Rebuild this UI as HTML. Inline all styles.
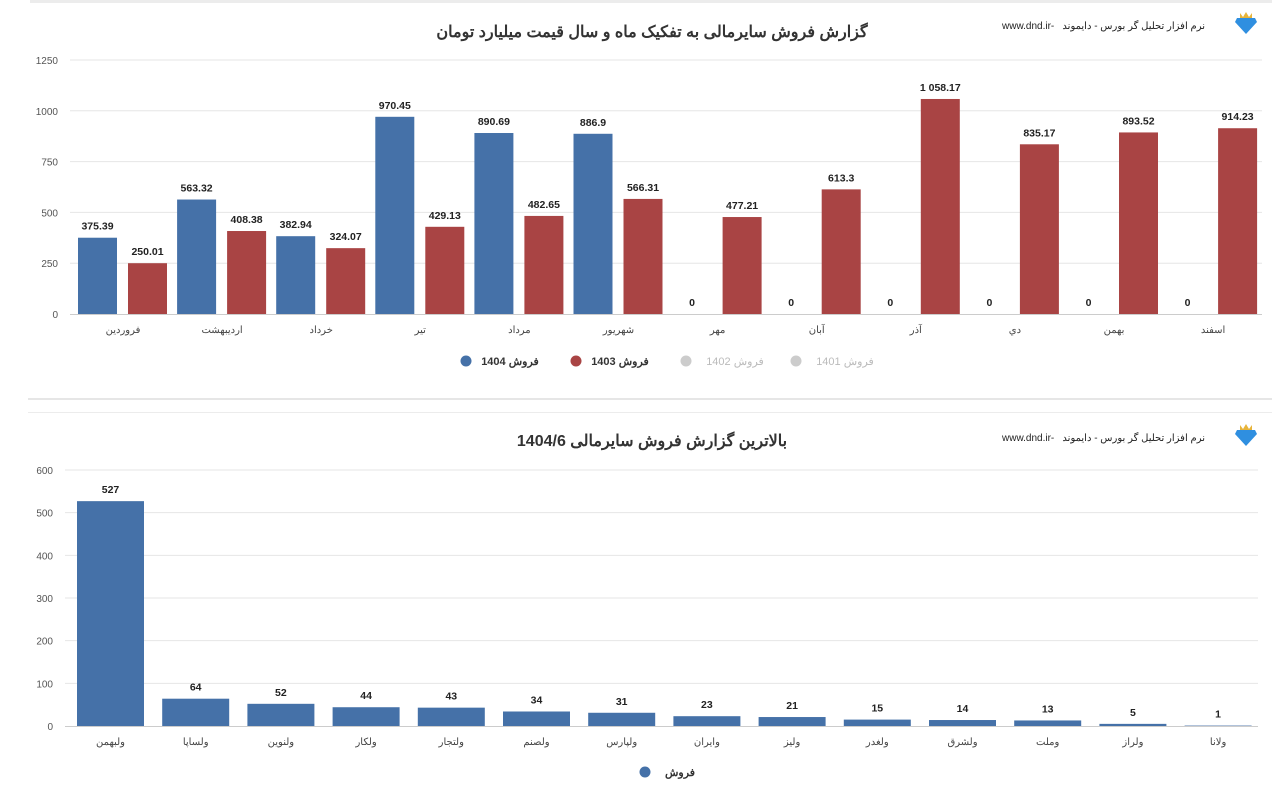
<!DOCTYPE html>
<html><head><meta charset="utf-8"><style>
body{margin:0;background:#fff;width:1280px;height:801px;overflow:hidden;font-family:"Liberation Sans","Noto Sans CJK SC",sans-serif}
svg{position:absolute;left:0;top:0}
</style></head><body>
<svg id="s" width="1280" height="801" xmlns="http://www.w3.org/2000/svg" font-family="Liberation Sans, Noto Sans CJK SC, sans-serif"></svg>
<script>
var o='';
function t(x,y,s,sz,c,w,a){o+='<text x="'+x+'" y="'+y+'" font-size="'+sz+'" fill="'+c+'" font-weight="'+(w||'normal')+'" text-anchor="'+(a||'middle')+'">'+s+'</text>';}
function r(x,y,w,h,c){o+='<rect x="'+x+'" y="'+y+'" width="'+w+'" height="'+h+'" fill="'+c+'"/>';}
function l(x1,y1,x2,y2,c){o+='<line x1="'+x1+'" y1="'+y1+'" x2="'+x2+'" y2="'+y2+'" stroke="'+c+'" stroke-width="1"/>';}
var B='#4571a8',R='#a94444';
r(30,0,1242,3,'#ececec');r(28,398,1244,2,'#e6e6e6');r(28,412,1244,1,'#ececec');
function diamond(x,y){o+='<polygon points="'+(x-9)+','+y+' '+(x+9)+','+y+' '+(x+11)+','+(y+4)+' '+x+','+(y+16)+' '+(x-11)+','+(y+4)+'" fill="#2f8fe0"/><polygon points="'+(x-6)+','+(y-5)+' '+(x-3)+','+(y-1)+' '+x+','+(y-6)+' '+(x+3)+','+(y-1)+' '+(x+6)+','+(y-5)+' '+(x+6)+','+y+' '+(x-6)+','+y+'" fill="#e7b43a"/>';}
diamond(1246,18);diamond(1246,430);
function hdr(y){t(1205,y,'نرم افزار تحلیل گر بورس - دایموند','10','#222','normal','end');t(1002,y,'www.dnd.ir-','10','#222','normal','start');}
hdr(29);hdr(441);
t(652,37,'گزارش فروش سایرمالی به تفکیک ماه و سال قیمت میلیارد تومان','16','#333','bold');
t(652,446,'بالاترین گزارش فروش سایرمالی 1404/6','16','#333','bold');
var y0=314,k=254/1250;
[0,250,500,750,1000,1250].forEach(function(v){var y=y0-v*k;if(v>0)l(70,y,1262,y,'#e6e6e6');t(58,y+4,v,'10','#555','normal','end');});
l(70,y0+0.5,1262,y0+0.5,'#ccc');
var m=['فروردین','اردیبهشت','خرداد','تیر','مرداد','شهریور','مهر','آبان','آذر','دي','بهمن','اسفند'];
var b1=[375.39,563.32,382.94,970.45,890.69,886.9,0,0,0,0,0,0];
var b2=[250.01,408.38,324.07,429.13,482.65,566.31,477.21,613.3,1058.17,835.17,893.52,914.23];
var l2=['250.01','408.38','324.07','429.13','482.65','566.31','477.21','613.3','1 058.17','835.17','893.52','914.23'];
for(var i=0;i<12;i++){var x=78+i*99.1;var h1=b1[i]*k,h2=b2[i]*k;
 if(h1>0)r(x,y0-h1,39,h1,B);t(x+19.5,y0-h1-8,b1[i],'10.5','#222','bold');
 r(x+50,y0-h2,39,h2,R);t(x+69.5,y0-h2-8,l2[i],'10.5','#222','bold');
 t(x+45,y0+19,m[i],'10','#444');}
function dot(x,y,c){o+='<circle cx="'+x+'" cy="'+y+'" r="5.5" fill="'+c+'"/>';}
dot(466,361,B);t(510,365,'فروش 1404','11','#333','bold');
dot(576,361,R);t(620,365,'فروش 1403','11','#333','bold');
dot(686,361,'#ccc');t(735,365,'فروش 1402','11','#bbb','normal');
dot(796,361,'#ccc');t(845,365,'فروش 1401','11','#bbb','normal');
var z0=726,q=256/600;
[0,100,200,300,400,500,600].forEach(function(v){var y=z0-v*q;if(v>0)l(65,y,1258,y,'#e6e6e6');t(53,y+4,v,'10','#555','normal','end');});
l(65,z0+0.5,1258,z0+0.5,'#ccc');
var n=['ولبهمن','ولساپا','ولنوين','ولكار','ولتجار','ولصنم','ولپارس','وايران','وليز','ولغدر','ولشرق','وملت','ولراز','ولانا'];
var v=[527,64,52,44,43,34,31,23,21,15,14,13,5,1];
for(i=0;i<14;i++){var x=77+i*85.2,h=v[i]*q;r(x,z0-h,67,h,B);t(x+33.5,z0-h-8,v[i],'10.5','#222','bold');t(x+33.5,z0+19,n[i],'10','#444');}
dot(645,772,B);t(680,776,'فروش','11','#333','bold');
document.getElementById('s').innerHTML=o;
</script>
</body></html>
